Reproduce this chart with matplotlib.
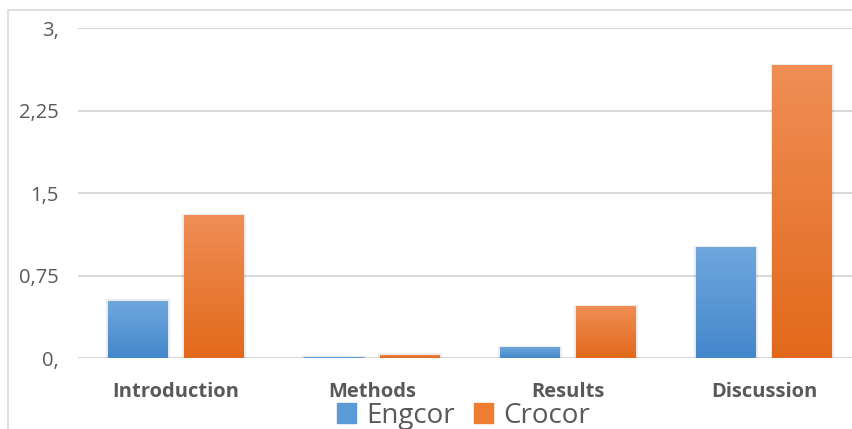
import numpy as np
import matplotlib.pyplot as plt
from matplotlib.patches import Rectangle
from matplotlib.colors import LinearSegmentedColormap

# data
categories = ['Introduction', 'Methods', 'Results', 'Discussion']
engcor = [0.52, 0.005, 0.10, 1.01]
crocor = [1.30, 0.03, 0.47, 2.66]
yticks = [0, 0.75, 1.5, 2.25, 3]
ytick_labels = ['0,', '0,75', '1,5', '2,25', '3,']

plt.rcParams['font.family'] = ['Open Sans', 'DejaVu Sans']

fig = plt.figure(figsize=(8.53, 4.29), dpi=100)
ax = fig.add_axes([0.0914, 0.1655, 0.9192, 0.7692])

# frame of the chart area (cropped on the right and bottom)
fig.patches.append(Rectangle((8 / 853, -0.1), 1.2, 1 - 10 / 429 + 0.1,
                             transform=fig.transFigure, fill=False,
                             edgecolor='#d9d9d9', linewidth=1.2, zorder=0))

x = np.arange(len(categories))
w = 0.306
off = 0.194

blue_cm = LinearSegmentedColormap.from_list('b', ['#4487cb', '#6fa7dd'])
orange_cm = LinearSegmentedColormap.from_list('o', ['#e2691b', '#f08e55'])
grad = np.linspace(0, 1, 256).reshape(-1, 1)

def gradient_bars(xs, vals, cmap, color):
    bars = ax.bar(xs, vals, w, color=color, zorder=3)
    for b in bars:
        x0, y0 = b.get_x(), b.get_y()
        bw, bh = b.get_width(), b.get_height()
        # soft shadow
        ax.add_patch(Rectangle((x0 - 0.008, y0), bw + 0.016, bh + 0.012,
                               color='#000000', alpha=0.08, lw=0, zorder=2))
        im = ax.imshow(grad, cmap=cmap, aspect='auto', origin='lower',
                       extent=(x0, x0 + bw, y0, y0 + bh), zorder=4)
        im.set_clip_path(b)
    return bars

gradient_bars(x - off, engcor, blue_cm, '#5b9bd5')
gradient_bars(x + off, crocor, orange_cm, '#ed7d31')

ax.set_xlim(-0.5, len(categories) - 0.5)
ax.set_ylim(0, 3)
ax.set_yticks(yticks)
ax.set_yticklabels(ytick_labels, fontsize=14.5, color='#595959')
ax.set_xticks(x)
ax.set_xticklabels(categories, fontsize=14.5, fontweight='bold', color='#595959')
ax.tick_params(axis='y', length=0, pad=14)
ax.tick_params(axis='x', length=0, pad=17)
ax.grid(axis='y', color='#d9d9d9', linewidth=1.5, zorder=0)
for s in ax.spines.values():
    s.set_visible(False)
ax.set_axisbelow(True)

handles = [Rectangle((0, 0), 1, 1, color='#5b9bd5'),
           Rectangle((0, 0), 1, 1, color='#ed7d31')]
fig.legend(handles, ['Engcor', 'Crocor'], loc='upper center',
           bbox_to_anchor=(0.543, 0.064), ncol=2, frameon=False,
           fontsize=20, labelcolor='#595959', handlelength=0.7,
           handleheight=0.7, handletextpad=0.35, columnspacing=0.7,
           borderpad=0, borderaxespad=0)

fig.savefig('out.png', dpi=100)
